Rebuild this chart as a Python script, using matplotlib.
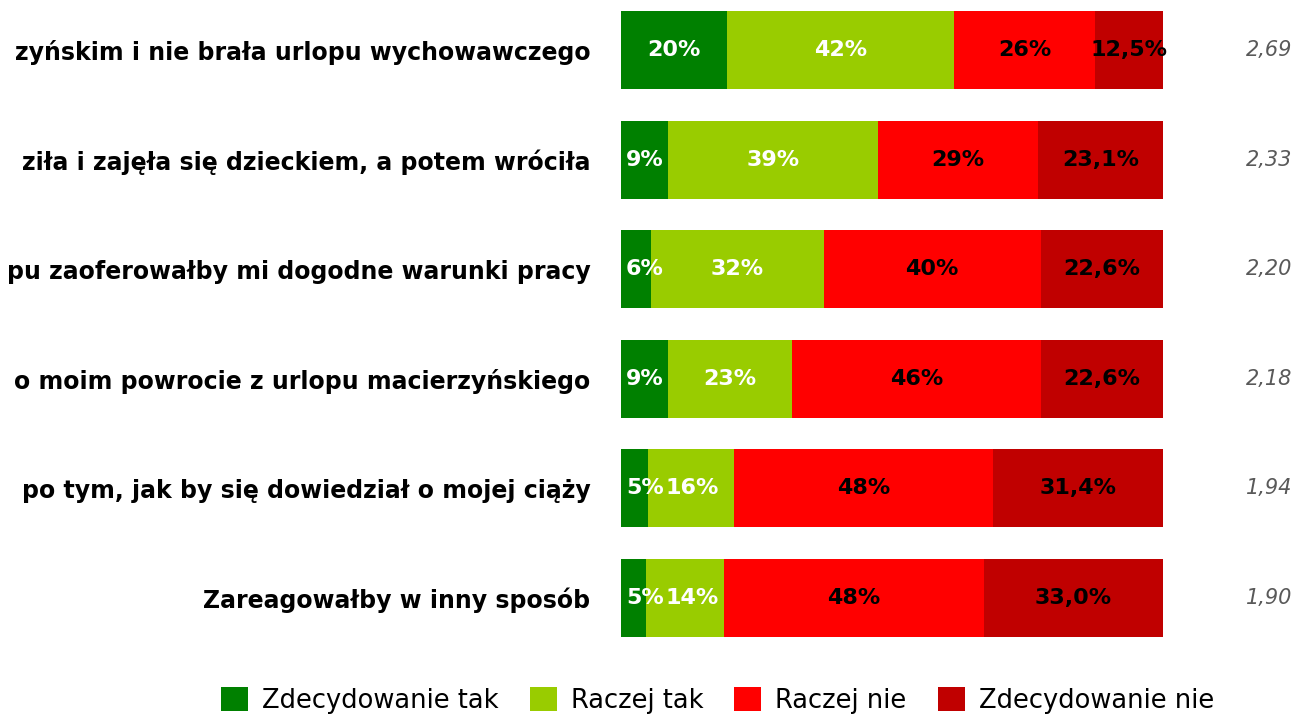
import matplotlib
matplotlib.use("Agg")
import matplotlib.pyplot as plt
from matplotlib.patches import Patch
import matplotlib.transforms as mtransforms

categories = [
    "zyńskim i nie brała urlopu wychowawczego",
    "ziła i zajęła się dzieckiem, a potem wróciła",
    "pu zaoferowałby mi dogodne warunki pracy",
    "o moim powrocie z urlopu macierzyńskiego",
    "po tym, jak by się dowiedział o mojej ciąży",
    "Zareagowałby w inny sposób",
]
series_names = ["Zdecydowanie tak", "Raczej tak", "Raczej nie", "Zdecydowanie nie"]
zdecydowanie_tak = [19.6, 8.6, 5.6, 8.6, 5.0, 4.6]
raczej_tak = [41.9, 38.9, 31.8, 23.0, 15.8, 14.4]
raczej_nie = [26.0, 29.4, 40.0, 45.8, 47.8, 48.0]
zdecydowanie_nie = [12.5, 23.1, 22.6, 22.6, 31.4, 33.0]
means = [2.69, 2.33, 2.20, 2.18, 1.94, 1.90]

colors = ["#008000", "#99CC00", "#FF0000", "#C00000"]
text_colors = ["white", "white", "black", "black"]

plt.rcParams['font.family'] = ['DejaVu Sans']

fig = plt.figure(figsize=(12.96, 7.18), dpi=100)
ax = fig.add_axes([0.4792, 0.0755, 0.4182, 0.9159])

series = [zdecydowanie_tak, raczej_tak, raczej_nie, zdecydowanie_nie]
y = list(range(len(categories)))
left = [0.0] * len(categories)
labels_by_series = []
for si, vals in enumerate(series):
    ax.barh(y, vals, left=left, height=0.712, color=colors[si], edgecolor="none")
    row_labels = []
    for i, v in enumerate(vals):
        if si == 3:
            lab = f"{v:.1f}%".replace(".", ",")
        else:
            lab = f"{round(v):d}%"
        t = ax.text(left[i] + v / 2, i, lab, ha="center", va="center",
                    color=text_colors[si], fontsize=16, fontweight="bold",
                    clip_on=False)
        row_labels.append(t)
    labels_by_series.append(row_labels)
    left = [l + v for l, v in zip(left, vals)]

ax.set_xlim(0, 100)
ax.set_ylim(5.6, -0.4)
ax.set_yticks(y)
ax.set_yticklabels(categories, fontsize=17, fontweight="bold")
ax.tick_params(axis="y", length=0, pad=22)
ax.set_xticks([])
for s in ax.spines.values():
    s.set_visible(False)

trans = mtransforms.blended_transform_factory(fig.transFigure, ax.transData)
for i, m in enumerate(means):
    ax.text(0.997, i, f"{m:.2f}".replace(".", ","), transform=trans, ha="right",
            va="center", color="#595959", fontsize=15, fontstyle="italic", clip_on=False)

handles = [Patch(facecolor=c, edgecolor="none") for c in colors]
fig.legend(handles, series_names, loc="center", bbox_to_anchor=(0.5537, 0.024),
           ncol=4, frameon=False, fontsize=18.5, handlelength=1.05, handleheight=1.05,
           handletextpad=0.55, columnspacing=1.2, borderpad=0)

# keep labels of narrow first segments inside the bar, and avoid collisions
fig.canvas.draw()
renderer = fig.canvas.get_renderer()
axbb = ax.get_window_extent(renderer)
px_to_data = 100.0 / axbb.width
for t in labels_by_series[0]:
    bb = t.get_window_extent(renderer)
    min_left = axbb.x0 + 5
    if bb.x0 < min_left:
        t.set_x(t.get_position()[0] + (min_left - bb.x0) * px_to_data)
fig.canvas.draw()
for t0, t1 in zip(labels_by_series[0], labels_by_series[1]):
    b0 = t0.get_window_extent(renderer)
    b1 = t1.get_window_extent(renderer)
    if b1.x0 < b0.x1 + 2:
        t1.set_x(t1.get_position()[0] + (b0.x1 + 2 - b1.x0) * px_to_data)

fig.savefig("out.png", dpi=100)
